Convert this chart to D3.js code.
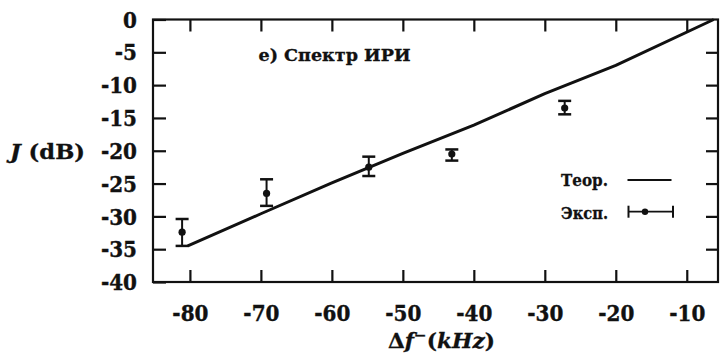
<!DOCTYPE html>
<html>
<head>
<meta charset="utf-8">
<script src="https://cdn.jsdelivr.net/npm/d3@7"></script>
<style>
  html, body { margin: 0; padding: 0; background: #fff; }
  svg { display: block; }
</style>
</head>
<body>
<svg id="chart" width="721" height="354"></svg>
<script>
// Frequency offset (kHz) ticks and intensity (dB) ticks
const xTicks = [-80, -70, -60, -50, -40, -30, -20, -10];
const yTicks = [0, -5, -10, -15, -20, -25, -30, -35, -40];

// Theoretical spectrum
const theoryF = [-80.3, -70, -60, -50, -40, -30, -20, -6.2];
const theoryJ = [-34.5, -29.6, -24.9, -20.4, -16.1, -11.3, -7.0, 0];

// Experimental points with error bars
const expF  = [-81.1, -69.2, -54.8, -43.1, -27.2];
const expJ  = [-32.4, -26.5, -22.5, -20.5, -13.5];
const expHi = [-30.4, -24.35, -20.9, -19.8, -12.4];
const expLo = [-34.5, -28.4, -23.85, -21.5, -14.45];

const legendLabels = ["Теор.", "Эксп."];
const panelTitle = "e) Спектр ИРИ";

const FONT = "DejaVu Serif";
const ink = "#111";

const svg = d3.select("#chart")
  .attr("font-family", FONT)
  .attr("font-weight", "bold");

const x = d3.scaleLinear().domain([-85.2, -5.6]).range([153, 718]);
const y = d3.scaleLinear().domain([0, -40]).range([19.5, 282]);

const [x0, x1] = x.range();
const [y0, y1] = y.range();

const fmt = d => String(d).replace("−", "-");

// Axes with inward ticks on all four sides
const gLeft = svg.append("g").attr("transform", `translate(${x0},0)`)
  .call(d3.axisLeft(y).tickValues(yTicks).tickSizeInner(-13).tickSizeOuter(0).tickPadding(16).tickFormat(fmt));
const gRight = svg.append("g").attr("transform", `translate(${x1},0)`)
  .call(d3.axisRight(y).tickValues(yTicks.slice(1, -1)).tickSizeInner(-12).tickSizeOuter(0).tickFormat(""));
const gBottom = svg.append("g").attr("transform", `translate(0,${y1})`)
  .call(d3.axisBottom(x).tickValues(xTicks).tickSizeInner(-12).tickSizeOuter(0).tickPadding(20).tickFormat(fmt));
const gTop = svg.append("g").attr("transform", `translate(0,${y0})`)
  .call(d3.axisTop(x).tickValues(xTicks).tickSizeInner(-12).tickSizeOuter(0).tickFormat(""));

[gLeft, gRight, gBottom, gTop].forEach(g => {
  g.attr("font-family", FONT).attr("font-size", 20).attr("font-weight", "bold");
  g.select(".domain").remove();
  g.selectAll(".tick line").attr("stroke", ink).attr("stroke-width", 2.2);
  g.selectAll(".tick text").attr("fill", ink)
    .attr("stroke", ink).attr("stroke-width", 0.35)
    .attr("transform", "scale(1,1.12)");
});
gLeft.selectAll(".tick text").attr("dy", "0.34em");
gBottom.selectAll(".tick text").attr("dy", "0.72em");

// Frame
svg.append("rect")
  .attr("x", x0).attr("y", y0)
  .attr("width", x1 - x0).attr("height", y1 - y0)
  .attr("fill", "none").attr("stroke", ink).attr("stroke-width", 2.2);

// Theory curve
const theory = theoryF.map((f, i) => [f, theoryJ[i]]);
svg.append("path")
  .datum(theory)
  .attr("d", d3.line().x(d => x(d[0])).y(d => y(d[1])))
  .attr("fill", "none").attr("stroke", ink).attr("stroke-width", 3)
  .attr("stroke-linejoin", "round");

// Experimental points with error bars
const exp = expF.map((f, i) => ({ f, j: expJ[i], hi: expHi[i], lo: expLo[i] }));
const capW = 6.5;
const pts = svg.append("g").selectAll("g").data(exp).join("g");
pts.append("line")
  .attr("x1", d => x(d.f)).attr("x2", d => x(d.f))
  .attr("y1", d => y(d.hi)).attr("y2", d => y(d.lo))
  .attr("stroke", ink).attr("stroke-width", 2);
pts.append("line")
  .attr("x1", d => x(d.f) - capW).attr("x2", d => x(d.f) + capW)
  .attr("y1", d => y(d.hi)).attr("y2", d => y(d.hi))
  .attr("stroke", ink).attr("stroke-width", 2.5);
pts.append("line")
  .attr("x1", d => x(d.f) - capW).attr("x2", d => x(d.f) + capW)
  .attr("y1", d => y(d.lo)).attr("y2", d => y(d.lo))
  .attr("stroke", ink).attr("stroke-width", 2.5);
pts.append("circle")
  .attr("cx", d => x(d.f)).attr("cy", d => y(d.j))
  .attr("r", 3.6).attr("fill", ink);

// Panel title
svg.append("text")
  .attr("x", 258.5).attr("y", 61)
  .attr("font-size", 16.5).attr("fill", ink)
  .attr("stroke", ink).attr("stroke-width", 0.3)
  .attr("textLength", 152).attr("lengthAdjust", "spacingAndGlyphs")
  .text(panelTitle);

// Legend
const lg = svg.append("g").attr("fill", ink);
lg.append("text").attr("x", 561).attr("y", 185.5).attr("font-size", 16.5)
  .attr("stroke", ink).attr("stroke-width", 0.3)
  .attr("textLength", 47).attr("lengthAdjust", "spacingAndGlyphs").text(legendLabels[0]);
lg.append("line").attr("x1", 627.5).attr("x2", 671.5).attr("y1", 180).attr("y2", 180)
  .attr("stroke", ink).attr("stroke-width", 2);
lg.append("text").attr("x", 561).attr("y", 218.5).attr("font-size", 16.5)
  .attr("stroke", ink).attr("stroke-width", 0.3)
  .attr("textLength", 47).attr("lengthAdjust", "spacingAndGlyphs").text(legendLabels[1]);
const ly = 211.7;
lg.append("line").attr("x1", 628.5).attr("x2", 673).attr("y1", ly).attr("y2", ly)
  .attr("stroke", ink).attr("stroke-width", 1.8);
[628.5, 673].forEach(cx => {
  lg.append("line").attr("x1", cx).attr("x2", cx).attr("y1", ly - 6).attr("y2", ly + 6)
    .attr("stroke", ink).attr("stroke-width", 2);
});
lg.append("circle").attr("cx", 645).attr("cy", ly).attr("r", 3.2).attr("fill", ink);

// Axis titles
const yt = svg.append("text").attr("x", 10).attr("y", 159).attr("font-size", 21)
  .attr("fill", ink).attr("stroke", ink).attr("stroke-width", 0.3)
  .attr("textLength", 75).attr("lengthAdjust", "spacingAndGlyphs");
yt.append("tspan").attr("font-style", "italic").text("J");
yt.append("tspan").text(" (dB)");

const xt = svg.append("text").attr("x", 388).attr("y", 348).attr("font-size", 20)
  .attr("fill", ink).attr("stroke", ink).attr("stroke-width", 0.3)
  .attr("textLength", 107).attr("lengthAdjust", "spacingAndGlyphs");
xt.append("tspan").text("Δ");
xt.append("tspan").attr("font-style", "italic").text("f");
xt.append("tspan").attr("font-size", 14).attr("dy", -8).text("−");
xt.append("tspan").attr("dy", 8).text("(");
xt.append("tspan").attr("font-style", "italic").text("kHz");
xt.append("tspan").text(")");
</script>
</body>
</html>
